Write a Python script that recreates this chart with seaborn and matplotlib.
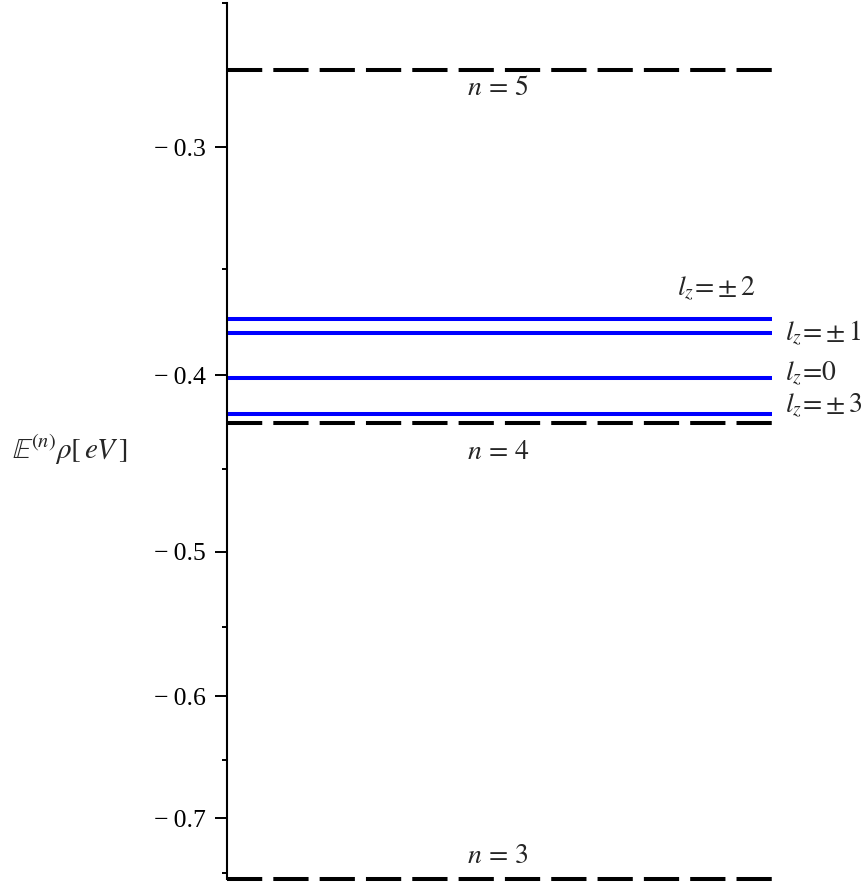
import numpy as np
import pandas as pd
import matplotlib
matplotlib.use('Agg')
import matplotlib.pyplot as plt
import seaborn as sns

sns.set_style('white')
plt.rcParams['font.family'] = ['Liberation Serif', 'DejaVu Serif']
plt.rcParams['mathtext.fontset'] = 'stix'

# shell energies (dashed black) and split sub-levels (solid blue), eV
shell_n = [3, 4, 5]
shell_E = [-0.7556, -0.4250, -0.2720]
sub_labels = [r'$l_z\!=\!\pm2$', r'$l_z\!=\!\pm1$', r'$l_z\!=\!0$', r'$l_z\!=\!\pm3$']
sub_E = [-0.3727, -0.3794, -0.4015, -0.4198]
y_ticks = [-0.3, -0.4, -0.5, -0.6, -0.7]
y_minor = [-0.25, -0.35, -0.45, -0.55, -0.65, -0.75]

shells = pd.DataFrame({'x': [0.0, 1.0] * len(shell_n),
                       'E': np.repeat(shell_E, 2),
                       'n': np.repeat(shell_n, 2)})
subs = pd.DataFrame({'x': [0.0, 1.0] * len(sub_E),
                     'E': np.repeat(sub_E, 2),
                     'lz': np.repeat(np.arange(len(sub_E)), 2)})

fig = plt.figure(figsize=(8.66, 8.84), dpi=100)
ax = fig.add_axes([227 / 866, 1 - 879 / 884, 545 / 866, 876 / 884])

# log-like axis on negative energies (as in the original plot)
def fwd(y):
    return -np.log(np.clip(-np.asarray(y, dtype=float), 1e-12, None))

def inv(t):
    return -np.exp(-np.asarray(t, dtype=float))

sns.lineplot(data=subs, x='x', y='E', units='lz', estimator=None, sort=False,
             color='#0000ff', lw=2.9, solid_capstyle='butt', legend=False, ax=ax)
sns.lineplot(data=shells, x='x', y='E', units='n', estimator=None, sort=False,
             color='black', lw=2.9, linestyle=(0, (8.75, 2.75)),
             clip_on=False, legend=False, ax=ax)

ax.set_yscale('function', functions=(fwd, inv))
ax.set_ylim(-0.7556, -0.25)
ax.set_xlim(0, 1)
ax.set_yticks(y_ticks, labels=['\u2212\u2009' + f'{abs(v):.1f}' for v in y_ticks])
ax.set_yticks(y_minor, minor=True)
ax.set_xticks([])
ax.set_xlabel('')

sns.despine(ax=ax, left=False, bottom=True, top=True, right=True)
ax.spines['left'].set_color('black')
ax.spines['left'].set_linewidth(1.5)
ax.tick_params(axis='y', which='major', left=True, length=8.6, width=1.4,
               pad=6.5, labelsize=18.5, colors='black')
ax.tick_params(axis='y', which='minor', left=True, length=3.3, width=1.4,
               colors='black')

ax.set_ylabel(r'$\mathbb{E}^{(n)}\rho[\,eV\,]$', rotation=0, fontsize=21,
              ha='center', va='center')
ax.yaxis.set_label_coords(-0.288, 0.49)

# shell labels
n_off = {5: -18, 4: -26, 3: 11.5}
for n, e in zip(shell_n, shell_E):
    ax.annotate(rf'$n\,=\,{n}$', xy=(0.497, e), xycoords=('axes fraction', 'data'),
                xytext=(0, n_off[n]), textcoords='offset points',
                ha='center', va='baseline', fontsize=20)

# sub-level labels
lab_x = [0.826, 1.024, 1.024, 1.024]
lab_dy = [18, -4.3, -1.4, 1.4]
for lab, e, lx, dy in zip(sub_labels, sub_E, lab_x, lab_dy):
    ax.annotate(lab, xy=(lx, e), xycoords=('axes fraction', 'data'),
                xytext=(0, dy), textcoords='offset points',
                ha='left', va='baseline', fontsize=20, annotation_clip=False)

fig.savefig('out.png', dpi=100)
